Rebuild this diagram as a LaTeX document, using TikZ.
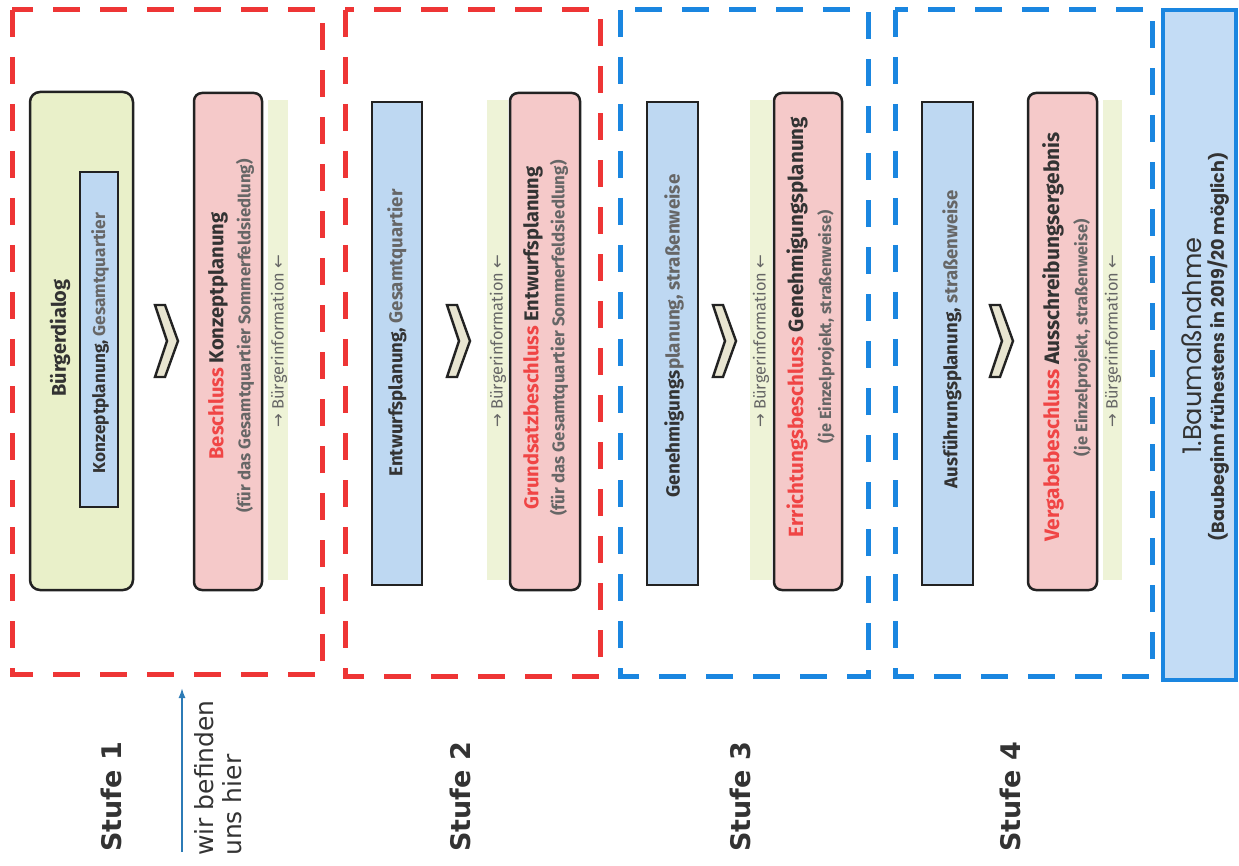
\documentclass[tikz,border=0pt]{standalone}
\usepackage{fontspec}
\usepackage{graphicx}
\setmainfont{Fira Sans}
\newfontfamily\dejavu{DejaVu Sans}
\newfontfamily\popp{Poppins}
\usetikzlibrary{arrows.meta}
\definecolor{redc}{HTML}{EE3535}
\definecolor{bluec}{HTML}{1A86E0}
\definecolor{pinkc}{HTML}{F5C9C9}
\definecolor{greenc}{HTML}{E9F0C9}
\definecolor{stripec}{HTML}{EEF3D7}
\definecolor{bluef}{HTML}{BED8F2}
\definecolor{finalf}{HTML}{C3DCF5}
\definecolor{chevc}{HTML}{E8E5D1}
\definecolor{linec}{HTML}{222222}
\definecolor{darkt}{HTML}{333333}
\definecolor{grayt}{HTML}{666666}
\definecolor{redt}{HTML}{F04545}
\definecolor{arrowc}{HTML}{2C7BB6}
\newcommand{\fitw}[2]{\resizebox{#1pt}{!}{#2}}
\newcommand{\ar}[1]{{\dejavu #1}}
\tikzset{
  reddash/.style={draw=redc, line width=5pt, dash pattern=on 27pt off 20pt},
  bluedash/.style={draw=bluec, line width=5pt, dash pattern=on 27pt off 20pt},
  pinkbox/.style={draw=linec, line width=2.5pt, fill=pinkc, rounded corners=8pt},
  greenbox/.style={draw=linec, line width=2.5pt, fill=greenc, rounded corners=10pt},
  bluebox/.style={draw=linec, line width=2.5pt, fill=bluef},
  stripe/.style={fill=stripec, draw=none},
  chev/.style={draw=linec, line width=2.4pt, fill=chevc, line join=miter},
  vtext/.style={rotate=90, inner sep=0pt, anchor=center, text=darkt, font=\bfseries},
  stext/.style={rotate=90, inner sep=0pt, anchor=center, text=grayt},
  stufe/.style={rotate=90, inner sep=0pt, anchor=center, text=darkt, font=\dejavu\bfseries\fontsize{27}{32}\selectfont},
}
\begin{document}
\begin{tikzpicture}[x=1pt,y=-1pt]
\useasboundingbox (0,0) rectangle (1239,866);
% dashed stage frames
\draw[reddash] (12,10) rectangle (322,674);
\draw[reddash] (345,10) rectangle (600,676);
\draw[bluedash] (620,10) rectangle (868,676);
\draw[bluedash] (895,10) rectangle (1152,676);
% final box
\draw[draw=bluec, line width=3.5pt, fill=finalf] (1163,10) rectangle (1236,680);

% ---- column 1
\draw[greenbox] (30,92) rectangle (133,590);
\draw[bluebox] (80,172) rectangle (118,507);
\node[vtext] (t1a) at (60,338) {\fitw{117}{Bürgerdialog}};
\node[vtext] (t1b) at (100,343) {\fitw{260}{Konzeptplanung, {\color{grayt}Gesamtquartier}}};
\draw[chev] (155,305) -- (165,305) -- (178,341) -- (165,377) -- (155,377) -- (167,341) -- cycle;
\draw[pinkbox] (194,93) rectangle (262,590);
\node[vtext] (t1c) at (218,336) {\fitw{247}{{\color{redt}Beschluss} Konzeptplanung}};
\node[vtext, text=grayt] (t1d) at (245,336) {\fitw{353}{(für das Gesamtquartier Sommerfeldsiedlung)}};
\fill[stripe] (268,100) rectangle (288,580);
\node[stext] (t1e) at (279,341) {\fitw{173}{\ar{→} Bürgerinformation \ar{←}}};

% ---- column 2
\draw[bluebox] (372,102) rectangle (422,585);
\node[vtext] (t2a) at (397,333) {\fitw{287}{Entwurfsplanung, {\color{grayt}Gesamtquartier}}};
\draw[chev] (447,305) -- (457,305) -- (470,341) -- (457,377) -- (447,377) -- (459,341) -- cycle;
\fill[stripe] (487,100) rectangle (508,580);
\node[stext] (t2e) at (498,341) {\fitw{173}{\ar{→} Bürgerinformation \ar{←}}};
\draw[pinkbox] (510,93) rectangle (580,590);
\node[vtext] (t2c) at (533,338) {\fitw{343}{{\color{redt}Grundsatzbeschluss} Entwurfsplanung}};
\node[vtext, text=grayt] (t2d) at (559,338) {\fitw{355}{(für das Gesamtquartier Sommerfeldsiedlung)}};

% ---- column 3
\draw[bluebox] (647,102) rectangle (698,585);
\node[vtext] (t3a) at (674,336) {\fitw{323}{Genehmigungs{\color{grayt}planung, straßenweise}}};
\draw[chev] (713,305) -- (723,305) -- (736,341) -- (723,377) -- (713,377) -- (725,341) -- cycle;
\fill[stripe] (750,100) rectangle (772,580);
\node[stext] (t3e) at (761,341) {\fitw{173}{\ar{→} Bürgerinformation \ar{←}}};
\draw[pinkbox] (774,93) rectangle (842,590);
\node[vtext] (t3c) at (797,327) {\fitw{420}{{\color{redt}Errichtungsbeschluss} Genehmigungsplanung}};
\node[vtext, text=grayt] (t3d) at (826,327) {\fitw{233}{(je Einzelprojekt, straßenweise)}};

% ---- column 4
\draw[bluebox] (922,102) rectangle (973,585);
\node[vtext] (t4a) at (952,339) {\fitw{298}{Ausführungsplanung, {\color{grayt}straßenweise}}};
\draw[chev] (990,305) -- (1000,305) -- (1013,341) -- (1000,377) -- (990,377) -- (1002,341) -- cycle;
\draw[pinkbox] (1028,93) rectangle (1097,590);
\node[vtext] (t4c) at (1053,337) {\fitw{409}{{\color{redt}Vergabebeschluss} Ausschreibungsergebnis}};
\node[vtext, text=grayt] (t4d) at (1082,338) {\fitw{237}{(je Einzelprojekt, straßenweise)}};
\fill[stripe] (1103,100) rectangle (1122,580);
\node[stext] (t4e) at (1113,341) {\fitw{173}{\ar{→} Bürgerinformation \ar{←}}};

% ---- final
\node[rotate=90, inner sep=0pt, text=darkt, font=\popp] (f1) at (1192,346) {\fitw{217}{1.Baumaßnahme}};
\node[rotate=90, inner sep=0pt, text=darkt, font=\popp\bfseries] (f2) at (1219,347) {\fitw{389}{(Baubeginn frühestens in 2019/20 möglich)}};

% ---- bottom labels
\node[stufe] (s1) at (111,797) {Stufe 1};
\node[stufe] (s2) at (460,797) {Stufe 2};
\node[stufe] (s3) at (740,797) {Stufe 3};
\node[stufe] (s4) at (1010,797) {Stufe 4};
\node[rotate=90, anchor=north west, inner sep=0pt, align=left, text=darkt,
      font=\dejavu\fontsize{25}{28}\selectfont] (here) at (194,856) {wir befinden\\uns hier};
\coordinate (arS) at (182,852);
\coordinate (arE) at (182,688);
\draw[arrowc, line width=1.6pt, -{Latex[length=10pt,width=7pt]}] (arS) -- (arE);
\end{tikzpicture}
\end{document}
